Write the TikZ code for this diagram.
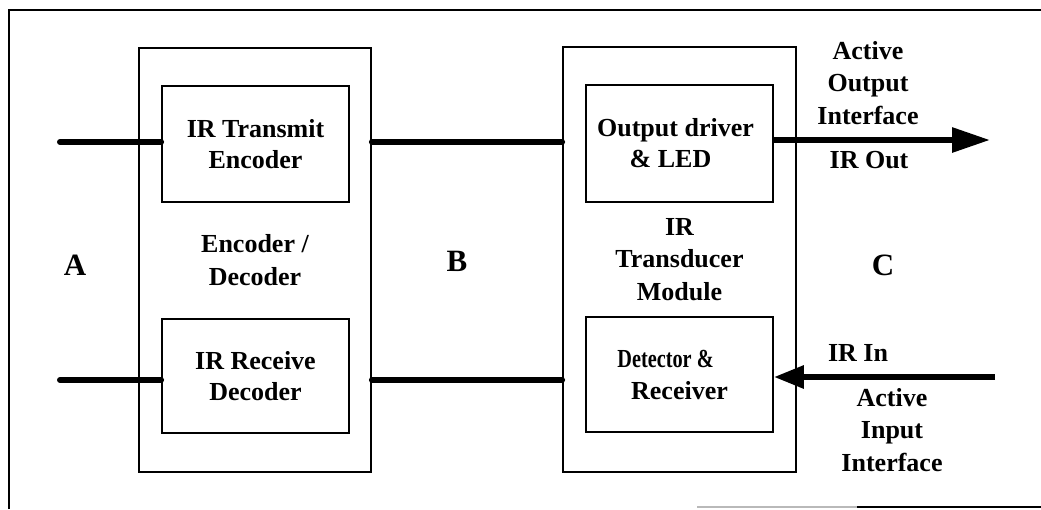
\documentclass[tikz,border=0pt]{standalone}
\usepackage{fontspec}
\setmainfont{Liberation Serif}
\usepackage{graphicx}
\usetikzlibrary{arrows.meta}
\begin{document}
\begin{tikzpicture}[x=1pt,y=-1pt,
  box/.style={draw=black,line width=1.8pt,rectangle,inner sep=0pt,align=center,
    font=\bfseries\fontsize{26}{31}\selectfont},
  lbl/.style={inner sep=0pt,align=center,font=\bfseries\fontsize{26}{32.5}\selectfont},
  big/.style={inner sep=0pt,font=\bfseries\fontsize{31}{36}\selectfont},
  wire/.style={line width=6pt,line cap=round},
  frameline/.style={line width=1.8pt}]
\useasboundingbox (0,0) rectangle (1041,509);
% outer frame
\draw[frameline] (9,509) -- (9,10) -- (1041,10);
\draw[line width=1.2pt,gray!55] (697,507) -- (857,507);
\draw[line width=1.6pt] (857,507) -- (1041,507);
% blocks
\node[box,minimum width=232,minimum height=424,font=\bfseries\fontsize{26}{33}\selectfont] (encdec) at (255,260) {Encoder /\\Decoder};
\node[box,minimum width=233,minimum height=425,font=\bfseries\fontsize{26}{32.5}\selectfont] (trans) at (679.5,259.5) {IR\\Transducer\\Module};
\node[box,fill=white,minimum width=187,minimum height=116] (tx) at (255.5,144) {IR Transmit\\Encoder};
\node[box,fill=white,minimum width=187,minimum height=114] (rx) at (255.5,376) {IR Receive\\Decoder};
\node[box,fill=white,minimum width=187,minimum height=117] (od) at (679.5,143.5) {Output driver\hspace*{8pt}\\\& LED\hspace*{18pt}};
\node[box,fill=white,minimum width=187,minimum height=115,font=\bfseries\fontsize{26}{32}\selectfont] (det) at (679.5,374.5) {\scalebox{0.78}[1]{Detector \&}\hspace*{28pt}\\Receiver};
% big letters
\node[big] (A) at (75,265) {A};
\node[big] (B) at (457,261) {B};
\node[big] (C) at (883,265) {C};
% side labels
\node[lbl] (aoi) at (868,83) {Active\\Output\\Interface};
\node[lbl] (irout) at (869,160) {IR Out};
\node[lbl] (irin) at (858,353) {IR In};
\node[lbl] (aii) at (892,430) {Active\\Input\\Interface};
% wires
\coordinate (la) at (60,142);
\coordinate (lb) at (60,380);
\coordinate (outend) at (990,140);
\coordinate (inend) at (995,377);
\draw[wire] (la) -- (tx.west |- la);
\draw[wire] (lb) -- (rx.west |- lb);
\draw[wire] (encdec.east |- la) -- (trans.west |- la);
\draw[wire] (encdec.east |- lb) -- (trans.west |- lb);
\draw[wire,line cap=butt,-{Triangle[length=38pt,width=24pt]}] (od.east |- outend) -- (outend);
\draw[wire,line cap=butt,-{Triangle[length=30pt,width=22pt]}] (inend) -- (det.east |- inend);
\end{tikzpicture}
\end{document}
